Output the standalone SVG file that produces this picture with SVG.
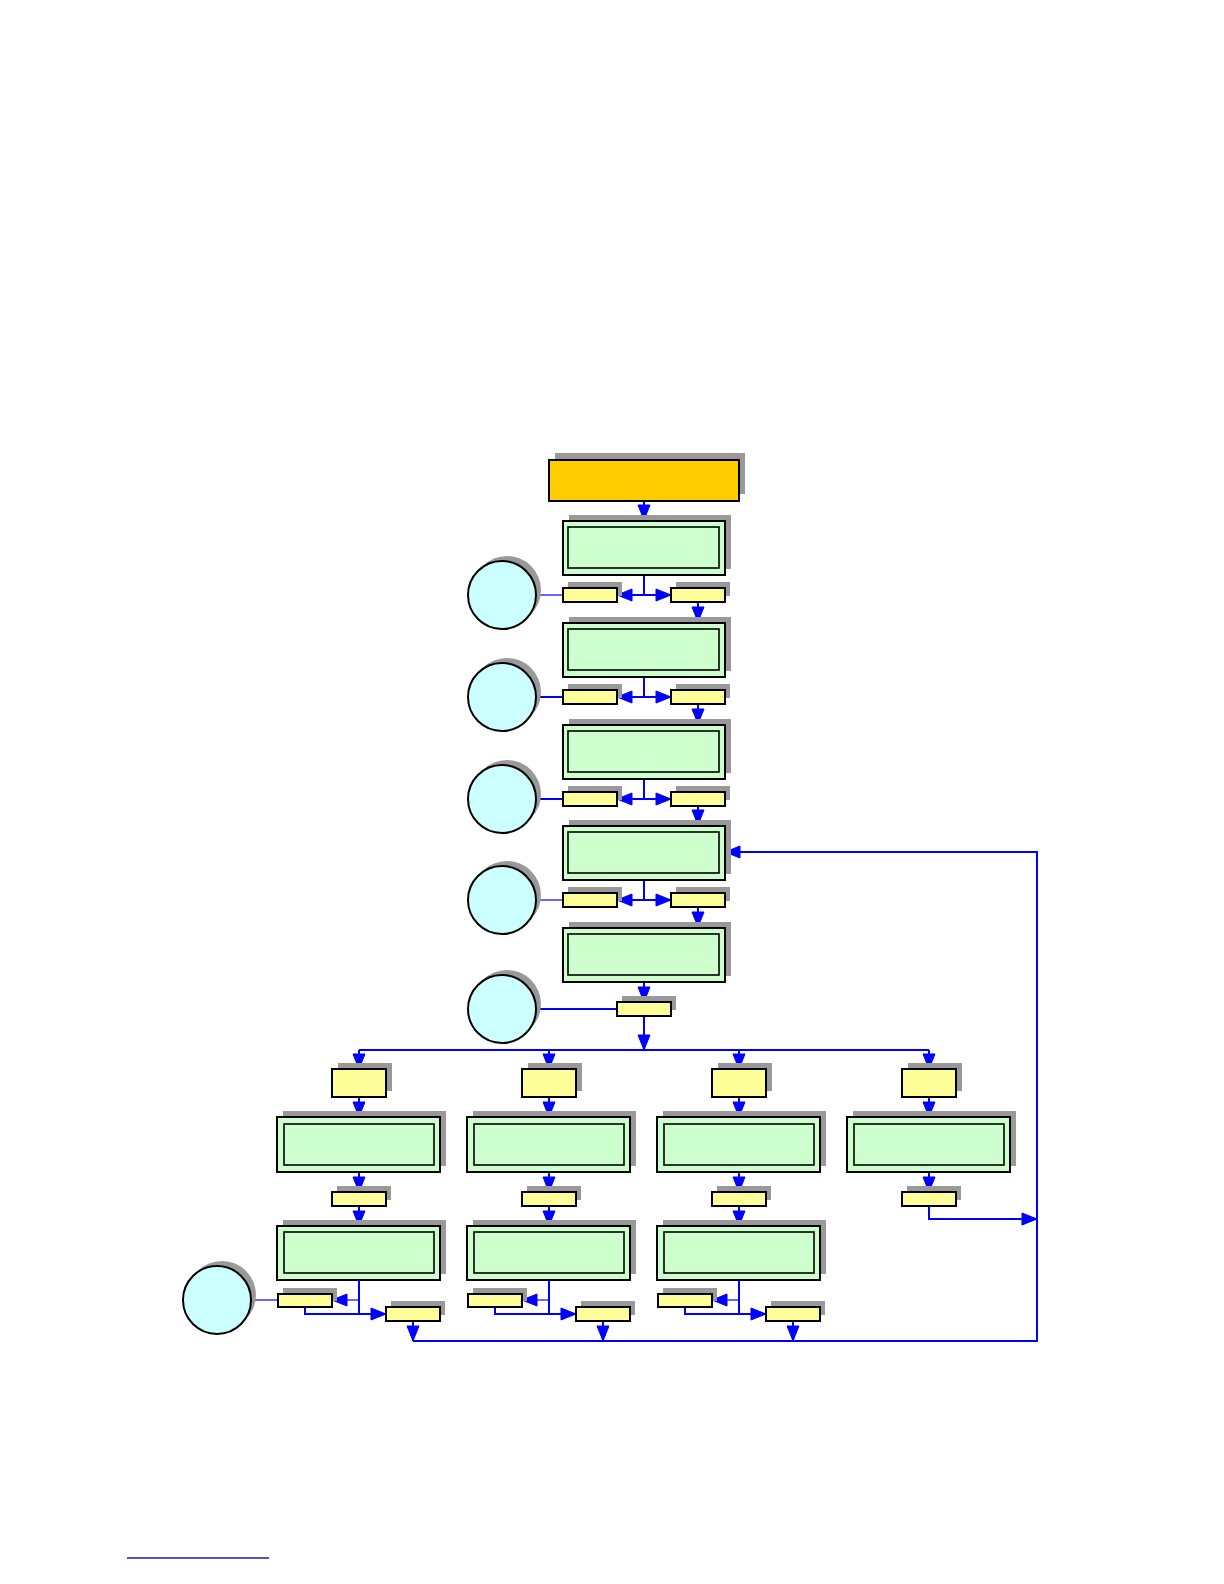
<svg xmlns="http://www.w3.org/2000/svg" width="1224" height="1584" viewBox="0 0 1224 1584">
<style>
.sh{fill:#999999}
.o{fill:#ffcc00;stroke:#000;stroke-width:2}
.g{fill:#ccffcc;stroke:#000;stroke-width:2}
.gi{fill:#ccffcc;stroke:#000;stroke-width:1.6}
.y{fill:#ffff99;stroke:#000;stroke-width:2}
.c{fill:#ccffff;stroke:#000;stroke-width:2}
.ln{fill:none;stroke:#0000ff;stroke-width:2}
.lt{fill:none;stroke:#0000ff;stroke-width:1.2}
</style>
<defs>
<marker id="ah" markerWidth="18" markerHeight="14" refX="16" refY="7" orient="auto" markerUnits="userSpaceOnUse" overflow="visible"><path d="M1,1 L16,7 L1,13 z" fill="#0000ff" stroke="#0000ff" stroke-width="1" stroke-linejoin="miter"/></marker>
</defs>
<rect width="1224" height="1584" fill="#fff"/>

<g id="connectors">
<path class="ln" d="M644,501 V520" marker-end="url(#ah)"/>
<path class="ln" d="M644,575 V595"/>
<path class="ln" d="M644,595 H617" marker-end="url(#ah)"/>
<path class="ln" d="M644,595 H671" marker-end="url(#ah)"/>
<path class="lt" d="M536,595 H563"/>
<path class="ln" d="M698,602 V622" marker-end="url(#ah)"/>
<path class="ln" d="M644,677 V697"/>
<path class="ln" d="M644,697 H617" marker-end="url(#ah)"/>
<path class="ln" d="M644,697 H671" marker-end="url(#ah)"/>
<path class="ln" d="M536,697 H563"/>
<path class="ln" d="M698,704 V724" marker-end="url(#ah)"/>
<path class="ln" d="M644,779 V799"/>
<path class="ln" d="M644,799 H617" marker-end="url(#ah)"/>
<path class="ln" d="M644,799 H671" marker-end="url(#ah)"/>
<path class="ln" d="M536,799 H563"/>
<path class="ln" d="M698,806 V825" marker-end="url(#ah)"/>
<path class="ln" d="M644,880 V900"/>
<path class="ln" d="M644,900 H617" marker-end="url(#ah)"/>
<path class="ln" d="M644,900 H671" marker-end="url(#ah)"/>
<path class="lt" d="M536,900 H563"/>
<path class="ln" d="M698,907 V927" marker-end="url(#ah)"/>
<path class="ln" d="M644,982 V1002" marker-end="url(#ah)"/>
<path class="ln" d="M536,1009 H617"/>
<path class="ln" d="M644,1016 V1050" marker-end="url(#ah)"/>
<path class="ln" d="M359,1050 H929"/>
<path class="ln" d="M359,1050 V1069" marker-end="url(#ah)"/>
<path class="ln" d="M549,1050 V1069" marker-end="url(#ah)"/>
<path class="ln" d="M739,1050 V1069" marker-end="url(#ah)"/>
<path class="ln" d="M929,1050 V1069" marker-end="url(#ah)"/>
<path class="ln" d="M359,1097 V1117" marker-end="url(#ah)"/>
<path class="ln" d="M549,1097 V1117" marker-end="url(#ah)"/>
<path class="ln" d="M739,1097 V1117" marker-end="url(#ah)"/>
<path class="ln" d="M929,1097 V1117" marker-end="url(#ah)"/>
<path class="ln" d="M359,1172 V1192" marker-end="url(#ah)"/>
<path class="ln" d="M549,1172 V1192" marker-end="url(#ah)"/>
<path class="ln" d="M739,1172 V1192" marker-end="url(#ah)"/>
<path class="ln" d="M929,1172 V1192" marker-end="url(#ah)"/>
<path class="ln" d="M359,1206 V1226" marker-end="url(#ah)"/>
<path class="ln" d="M549,1206 V1226" marker-end="url(#ah)"/>
<path class="ln" d="M739,1206 V1226" marker-end="url(#ah)"/>
<path class="ln" d="M929,1206 V1219 H1037" marker-end="url(#ah)"/>
<path class="ln" d="M359,1280 V1314"/>
<path class="lt" d="M359,1300 H332" marker-end="url(#ah)"/>
<path class="ln" d="M305,1307 V1314 H386" marker-end="url(#ah)"/>
<path class="ln" d="M413,1321 V1341" marker-end="url(#ah)"/>
<path class="ln" d="M549,1280 V1314"/>
<path class="lt" d="M549,1300 H522" marker-end="url(#ah)"/>
<path class="ln" d="M495,1307 V1314 H576" marker-end="url(#ah)"/>
<path class="ln" d="M603,1321 V1341" marker-end="url(#ah)"/>
<path class="ln" d="M739,1280 V1314"/>
<path class="lt" d="M739,1300 H712" marker-end="url(#ah)"/>
<path class="ln" d="M685,1307 V1314 H766" marker-end="url(#ah)"/>
<path class="ln" d="M793,1321 V1341" marker-end="url(#ah)"/>
<path class="lt" d="M251,1300 H278"/>
<path class="ln" d="M413,1341 H1037 V852 H725" marker-end="url(#ah)"/>
</g>

<g id="start"><rect class="sh" x="555" y="453" width="190" height="41"/><rect class="o" x="549" y="460" width="190" height="41"/></g>

<g id="step1"><rect class="sh" x="569" y="515" width="162" height="54"/><rect class="g" x="563" y="521" width="162" height="54"/><rect class="gi" x="568" y="527" width="151" height="41"/></g>
<g id="step2"><rect class="sh" x="569" y="617" width="162" height="54"/><rect class="g" x="563" y="623" width="162" height="54"/><rect class="gi" x="568" y="629" width="151" height="41"/></g>
<g id="step3"><rect class="sh" x="569" y="719" width="162" height="54"/><rect class="g" x="563" y="725" width="162" height="54"/><rect class="gi" x="568" y="731" width="151" height="41"/></g>
<g id="step4"><rect class="sh" x="569" y="820" width="162" height="54"/><rect class="g" x="563" y="826" width="162" height="54"/><rect class="gi" x="568" y="832" width="151" height="41"/></g>
<g id="step5"><rect class="sh" x="569" y="922" width="162" height="54"/><rect class="g" x="563" y="928" width="162" height="54"/><rect class="gi" x="568" y="934" width="151" height="41"/></g>

<g id="r1l"><rect class="sh" x="568" y="582" width="54" height="14"/><rect class="y" x="563" y="588" width="54" height="14"/></g>
<g id="r1r"><rect class="sh" x="676" y="582" width="54" height="14"/><rect class="y" x="671" y="588" width="54" height="14"/></g>
<g id="r2l"><rect class="sh" x="568" y="684" width="54" height="14"/><rect class="y" x="563" y="690" width="54" height="14"/></g>
<g id="r2r"><rect class="sh" x="676" y="684" width="54" height="14"/><rect class="y" x="671" y="690" width="54" height="14"/></g>
<g id="r3l"><rect class="sh" x="568" y="786" width="54" height="14"/><rect class="y" x="563" y="792" width="54" height="14"/></g>
<g id="r3r"><rect class="sh" x="676" y="786" width="54" height="14"/><rect class="y" x="671" y="792" width="54" height="14"/></g>
<g id="r4l"><rect class="sh" x="568" y="887" width="54" height="14"/><rect class="y" x="563" y="893" width="54" height="14"/></g>
<g id="r4r"><rect class="sh" x="676" y="887" width="54" height="14"/><rect class="y" x="671" y="893" width="54" height="14"/></g>
<g id="r5"><rect class="sh" x="622" y="996" width="54" height="14"/><rect class="y" x="617" y="1002" width="54" height="14"/></g>

<g id="circle1"><circle class="sh" cx="507" cy="590" r="34"/><circle class="c" cx="502" cy="595" r="34"/></g>
<g id="circle2"><circle class="sh" cx="507" cy="692" r="34"/><circle class="c" cx="502" cy="697" r="34"/></g>
<g id="circle3"><circle class="sh" cx="507" cy="794" r="34"/><circle class="c" cx="502" cy="799" r="34"/></g>
<g id="circle4"><circle class="sh" cx="507" cy="895" r="34"/><circle class="c" cx="502" cy="900" r="34"/></g>
<g id="circle5"><circle class="sh" cx="507" cy="1004" r="34"/><circle class="c" cx="502" cy="1009" r="34"/></g>
<g id="circle6"><circle class="sh" cx="222" cy="1295" r="34"/><circle class="c" cx="217" cy="1300" r="34"/></g>

<g id="c1h"><rect class="sh" x="338" y="1063" width="54" height="28"/><rect class="y" x="332" y="1069" width="54" height="28"/></g>
<g id="c1g1"><rect class="sh" x="283" y="1111" width="163" height="55"/><rect class="g" x="277" y="1117" width="163" height="55"/><rect class="gi" x="284" y="1124" width="150" height="41"/></g>
<g id="c1s"><rect class="sh" x="337" y="1186" width="54" height="14"/><rect class="y" x="332" y="1192" width="54" height="14"/></g>
<g id="c1g2"><rect class="sh" x="283" y="1220" width="163" height="54"/><rect class="g" x="277" y="1226" width="163" height="54"/><rect class="gi" x="284" y="1232" width="150" height="41"/></g>
<g id="c1l"><rect class="sh" x="283" y="1288" width="54" height="13"/><rect class="y" x="278" y="1294" width="54" height="13"/></g>
<g id="c1r"><rect class="sh" x="391" y="1301" width="54" height="14"/><rect class="y" x="386" y="1307" width="54" height="14"/></g>
<g id="c2h"><rect class="sh" x="528" y="1063" width="54" height="28"/><rect class="y" x="522" y="1069" width="54" height="28"/></g>
<g id="c2g1"><rect class="sh" x="473" y="1111" width="163" height="55"/><rect class="g" x="467" y="1117" width="163" height="55"/><rect class="gi" x="474" y="1124" width="150" height="41"/></g>
<g id="c2s"><rect class="sh" x="527" y="1186" width="54" height="14"/><rect class="y" x="522" y="1192" width="54" height="14"/></g>
<g id="c2g2"><rect class="sh" x="473" y="1220" width="163" height="54"/><rect class="g" x="467" y="1226" width="163" height="54"/><rect class="gi" x="474" y="1232" width="150" height="41"/></g>
<g id="c2l"><rect class="sh" x="473" y="1288" width="54" height="13"/><rect class="y" x="468" y="1294" width="54" height="13"/></g>
<g id="c2r"><rect class="sh" x="581" y="1301" width="54" height="14"/><rect class="y" x="576" y="1307" width="54" height="14"/></g>
<g id="c3h"><rect class="sh" x="718" y="1063" width="54" height="28"/><rect class="y" x="712" y="1069" width="54" height="28"/></g>
<g id="c3g1"><rect class="sh" x="663" y="1111" width="163" height="55"/><rect class="g" x="657" y="1117" width="163" height="55"/><rect class="gi" x="664" y="1124" width="150" height="41"/></g>
<g id="c3s"><rect class="sh" x="717" y="1186" width="54" height="14"/><rect class="y" x="712" y="1192" width="54" height="14"/></g>
<g id="c3g2"><rect class="sh" x="663" y="1220" width="163" height="54"/><rect class="g" x="657" y="1226" width="163" height="54"/><rect class="gi" x="664" y="1232" width="150" height="41"/></g>
<g id="c3l"><rect class="sh" x="663" y="1288" width="54" height="13"/><rect class="y" x="658" y="1294" width="54" height="13"/></g>
<g id="c3r"><rect class="sh" x="771" y="1301" width="54" height="14"/><rect class="y" x="766" y="1307" width="54" height="14"/></g>
<g id="c4h"><rect class="sh" x="908" y="1063" width="54" height="28"/><rect class="y" x="902" y="1069" width="54" height="28"/></g>
<g id="c4g1"><rect class="sh" x="853" y="1111" width="163" height="55"/><rect class="g" x="847" y="1117" width="163" height="55"/><rect class="gi" x="854" y="1124" width="150" height="41"/></g>
<g id="c4s"><rect class="sh" x="907" y="1186" width="54" height="14"/><rect class="y" x="902" y="1192" width="54" height="14"/></g>

<g id="footer-link"><line x1="127" y1="1558" x2="269" y2="1558" stroke="#1c1c8f" stroke-width="1.5"/></g>
</svg>
